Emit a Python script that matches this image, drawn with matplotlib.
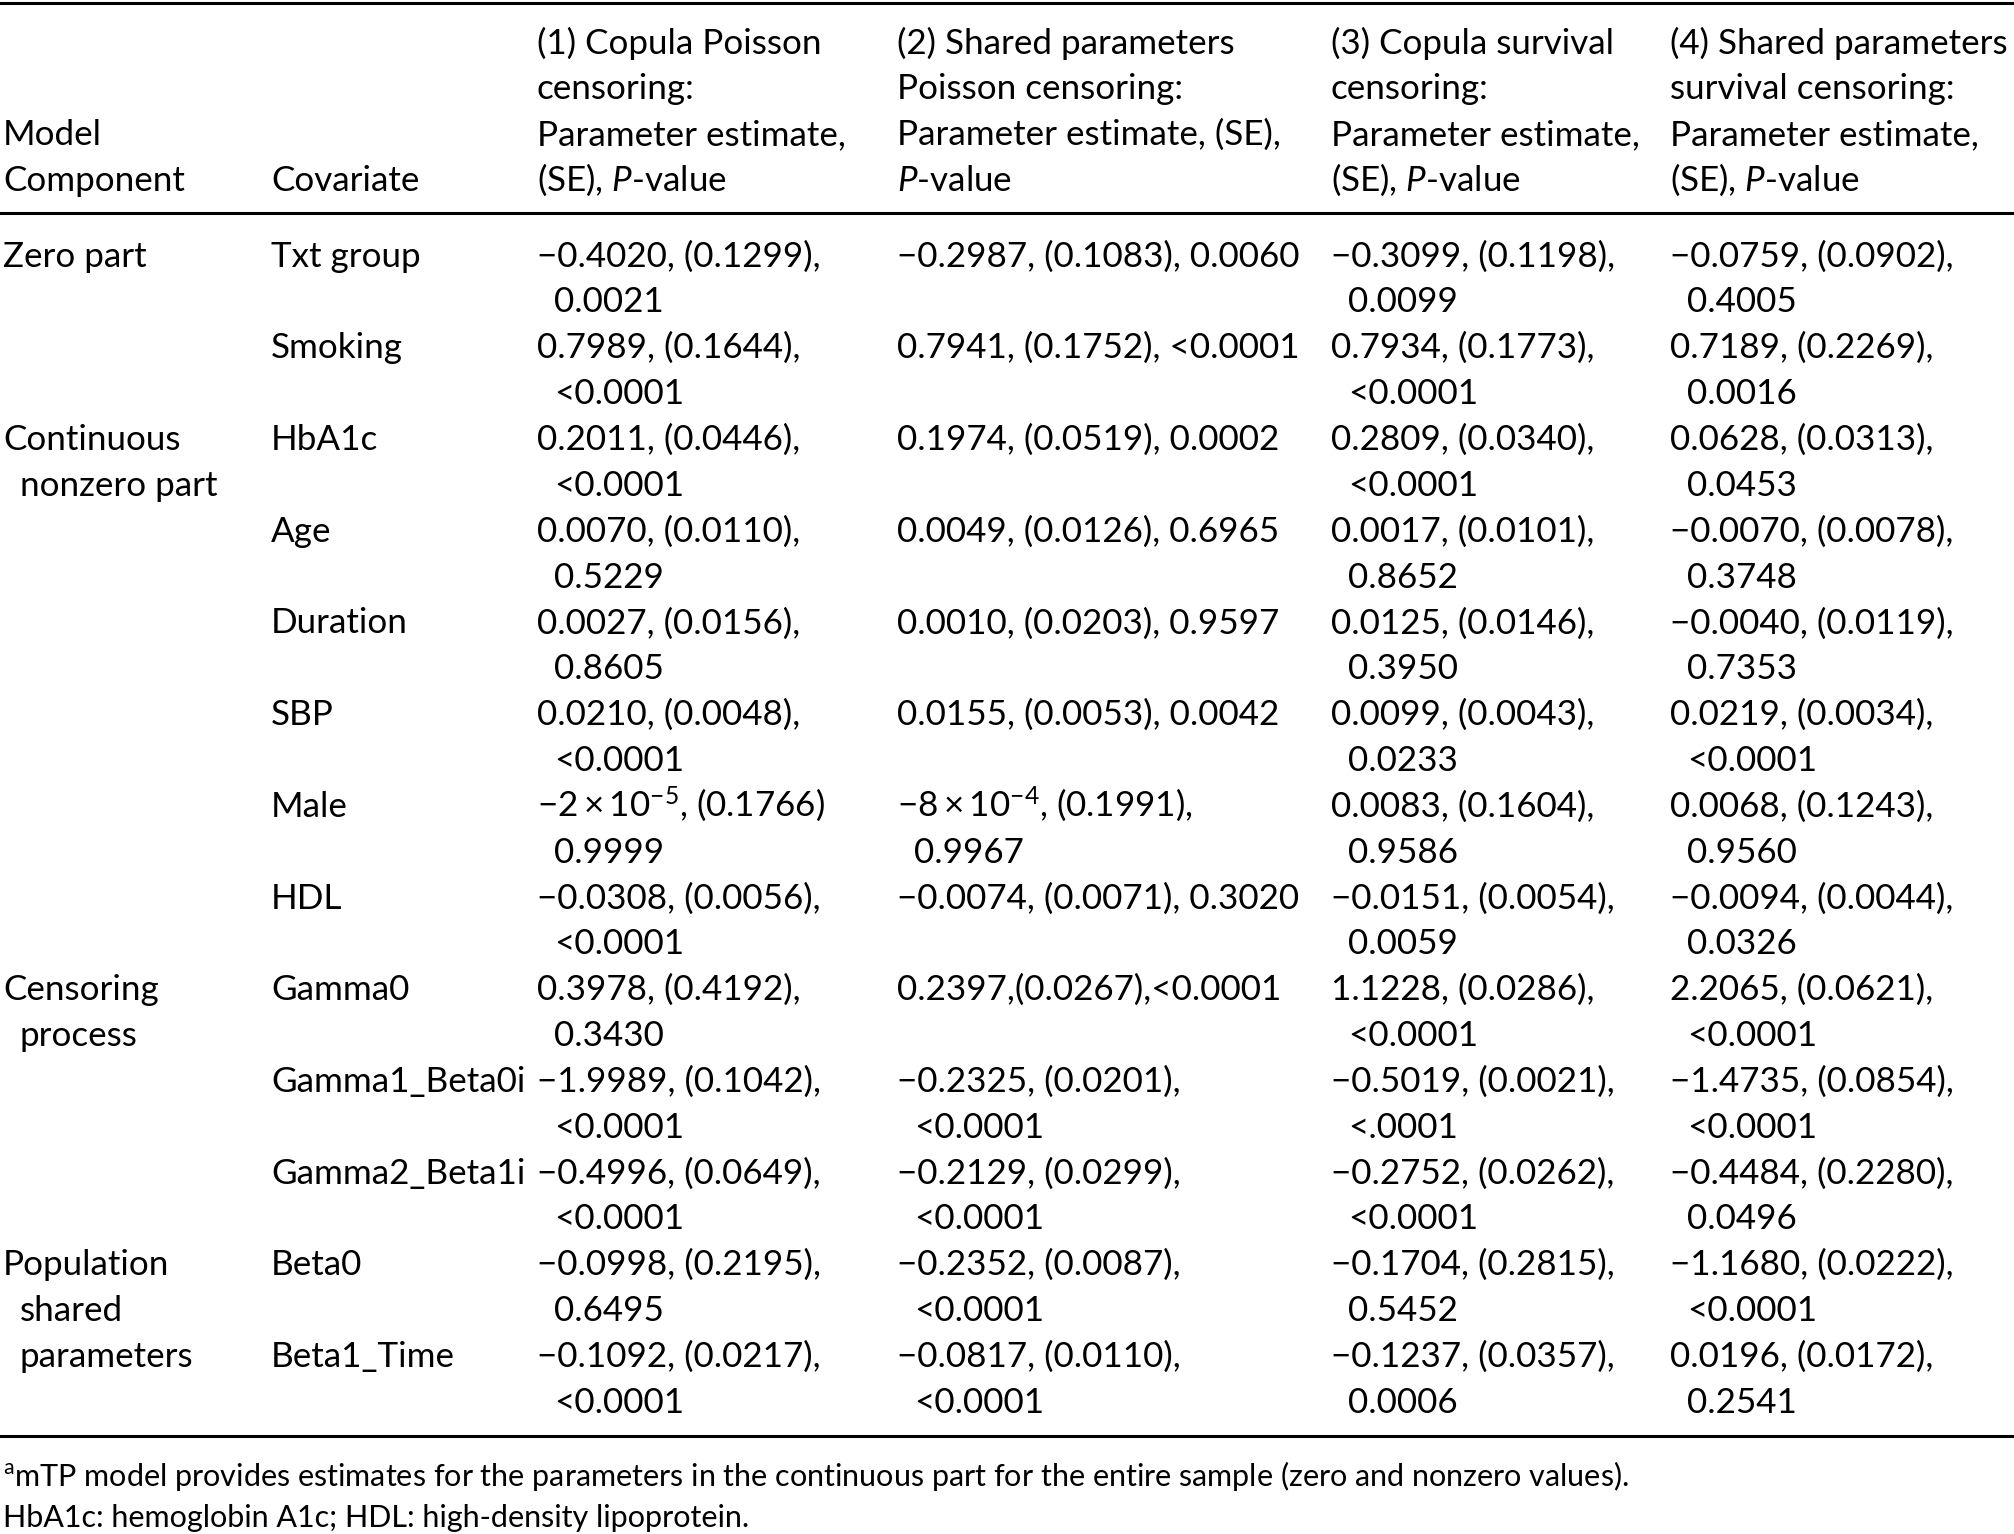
import matplotlib
matplotlib.use('Agg')
import matplotlib.pyplot as plt

plt.rcParams['font.family'] = ['Lato', 'DejaVu Sans']
plt.rcParams['mathtext.fontset'] = 'custom'
plt.rcParams['mathtext.rm'] = 'Lato'
plt.rcParams['mathtext.it'] = 'Lato:italic'

# ---- table content ----
header_cols = [
    ["Model", "Component"],
    ["Covariate"],
    ["(1) Copula Poisson", "censoring:", "Parameter estimate,", "(SE), $\\mathit{P}$-value"],
    ["(2) Shared parameters", "Poisson censoring:", "Parameter estimate, (SE),", "$\\mathit{P}$-value"],
    ["(3) Copula survival", "censoring:", "Parameter estimate,", "(SE), $\\mathit{P}$-value"],
    ["(4) Shared parameters", "survival censoring:", "Parameter estimate,", "(SE), $\\mathit{P}$-value"],
]

components = [
    ["Zero part"],
    ["Continuous", "nonzero part"],
    ["Censoring", "process"],
    ["Population", "shared", "parameters"],
]
covariates = [
    ["Txt group", "Smoking"],
    ["HbA1c", "Age", "Duration", "SBP", "Male", "HDL"],
    ["Gamma0", "Gamma1_Beta0i", "Gamma2_Beta1i"],
    ["Beta0", "Beta1_Time"],
]

copula_poisson = [
    "\u22120.4020, (0.1299),\n0.0021",
    "0.7989, (0.1644),\n<0.0001",
    "0.2011, (0.0446),\n<0.0001",
    "0.0070, (0.0110),\n0.5229",
    "0.0027, (0.0156),\n0.8605",
    "0.0210, (0.0048),\n<0.0001",
    "$-2\\times10^{-5}$, (0.1766)\n0.9999",
    "\u22120.0308, (0.0056),\n<0.0001",
    "0.3978, (0.4192),\n0.3430",
    "\u22121.9989, (0.1042),\n<0.0001",
    "\u22120.4996, (0.0649),\n<0.0001",
    "\u22120.0998, (0.2195),\n0.6495",
    "\u22120.1092, (0.0217),\n<0.0001",
]
shared_poisson = [
    "\u22120.2987, (0.1083), 0.0060",
    "0.7941, (0.1752), <0.0001",
    "0.1974, (0.0519), 0.0002",
    "0.0049, (0.0126), 0.6965",
    "0.0010, (0.0203), 0.9597",
    "0.0155, (0.0053), 0.0042",
    "$-8\\times10^{-4}$, (0.1991),\n0.9967",
    "\u22120.0074, (0.0071), 0.3020",
    "0.2397,(0.0267),<0.0001",
    "\u22120.2325, (0.0201),\n<0.0001",
    "\u22120.2129, (0.0299),\n<0.0001",
    "\u22120.2352, (0.0087),\n<0.0001",
    "\u22120.0817, (0.0110),\n<0.0001",
]
copula_survival = [
    "\u22120.3099, (0.1198),\n0.0099",
    "0.7934, (0.1773),\n<0.0001",
    "0.2809, (0.0340),\n<0.0001",
    "0.0017, (0.0101),\n0.8652",
    "0.0125, (0.0146),\n0.3950",
    "0.0099, (0.0043),\n0.0233",
    "0.0083, (0.1604),\n0.9586",
    "\u22120.0151, (0.0054),\n0.0059",
    "1.1228, (0.0286),\n<0.0001",
    "\u22120.5019, (0.0021),\n<.0001",
    "\u22120.2752, (0.0262),\n<0.0001",
    "\u22120.1704, (0.2815),\n0.5452",
    "\u22120.1237, (0.0357),\n0.0006",
]
shared_survival = [
    "\u22120.0759, (0.0902),\n0.4005",
    "0.7189, (0.2269),\n0.0016",
    "0.0628, (0.0313),\n0.0453",
    "\u22120.0070, (0.0078),\n0.3748",
    "\u22120.0040, (0.0119),\n0.7353",
    "0.0219, (0.0034),\n<0.0001",
    "0.0068, (0.1243),\n0.9560",
    "\u22120.0094, (0.0044),\n0.0326",
    "2.2065, (0.0621),\n<0.0001",
    "\u22121.4735, (0.0854),\n<0.0001",
    "\u22120.4484, (0.2280),\n0.0496",
    "\u22121.1680, (0.0222),\n<0.0001",
    "0.0196, (0.0172),\n0.2541",
]
models = [copula_poisson, shared_poisson, copula_survival, shared_survival]

footnotes = [
    "$^{\\mathrm{a}}$mTP model provides estimates for the parameters in the continuous part "
    "for the entire sample (zero and nonzero values).",
    "HbA1c: hemoglobin A1c; HDL: high-density lipoprotein.",
]

# ---- layout (pixels) ----
W, H = 2014, 1534
col_x = [3, 271, 537, 897, 1331, 1670]
indent = 17
pitch = 45.85
head_y0 = 41
body_y0 = 254
rules = [3, 213, 1436]
foot_y = [1475, 1516]

fig = plt.figure(figsize=(W / 100, H / 100), dpi=100)
ax = fig.add_axes([0, 0, 1, 1])
ax.set_xlim(0, W)
ax.set_ylim(H, 0)
ax.axis('off')
renderer = fig.canvas.get_renderer()


def text_width(s, size):
    t = ax.text(0, 0, s, fontsize=size)
    w = t.get_window_extent(renderer).width
    t.remove()
    return w


# size the font so that typical strings span about what they span in the reference
fit_a = 24 * 320 / text_width("Parameter estimate,", 24)
fit_b = 24 * 388 / text_width("0.7941, (0.1752), <0.0001", 24)
fs = 0.5 * (fit_a + fit_b)
fs_foot = 24 * 746 / text_width(footnotes[1], 24)


def put(x, yc, s, size=fs):
    ax.text(x, yc + 0.36 * size * 100 / 72, s, fontsize=size,
            ha='left', va='baseline', color='black')


# header: bottom aligned over 4 lines
for ci, lines in enumerate(header_cols):
    start = 4 - len(lines)
    for li, s in enumerate(lines):
        put(col_x[ci], head_y0 + (start + li) * pitch, s)

# body: component labels and covariates, two lines per covariate row
row = 0
for comp, covs in zip(components, covariates):
    for li, s in enumerate(comp):
        put(col_x[0] + (indent if li else 0), body_y0 + (row + li) * pitch, s)
    for cov in covs:
        put(col_x[1], body_y0 + row * pitch, cov)
        row += 2

# estimate cells
n_rows = sum(len(c) for c in covariates)
for k in range(n_rows):
    for mi, m in enumerate(models):
        for li, s in enumerate(m[k].split("\n")):
            put(col_x[2 + mi] + (indent if li else 0),
                body_y0 + (2 * k + li) * pitch, s)

for y in rules:
    ax.axhline(y, color='black', lw=2.2)

for s, y in zip(footnotes, foot_y):
    put(col_x[0], y, s, fs_foot)

fig.savefig('out.png', dpi=100)
